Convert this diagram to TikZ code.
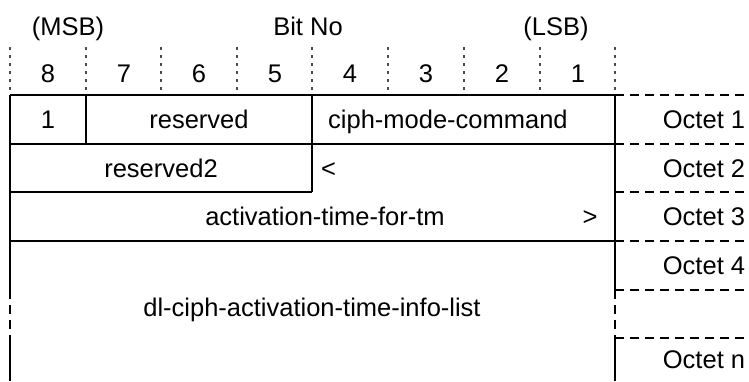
\documentclass[tikz,border=0pt]{standalone}
\usepackage{fontspec}
\setmainfont{Liberation Sans}
\begin{document}
\begin{tikzpicture}[x=1pt,y=-1pt,
  lbl/.style={font=\fontsize{25.5}{30}\selectfont, inner sep=0pt, anchor=base},
  boxline/.style={line width=2pt},
  octline/.style={line width=2pt, dash pattern=on 9pt off 6pt},
  sideline/.style={line width=2pt, dash pattern=on 9pt off 6pt},
  tickline/.style={line width=1.5pt, black!70, dash pattern=on 2.5pt off 5.5pt}]
\useasboundingbox (0,0) rectangle (749,381);

% header labels
\node[lbl] (msb) at (68,35) {(MSB)};
\node[lbl] (bitno) at (308,35) {Bit No};
\node[lbl] (lsb) at (556,35) {(LSB)};

% bit tick lines and numbers
\foreach \i/\x in {0/10,1/86,2/161,3/237,4/312,5/388,6/464,7/540,8/615}{
  \coordinate (t\i a) at (\x,47);
  \coordinate (t\i b) at (\x,91);
  \draw[tickline] (t\i a) -- (t\i b);
}
\foreach \n/\x in {8/48,7/124,6/199,5/275,4/350,3/426,2/502,1/578}{
  \node[lbl] (b\n) at (\x,82) {\n};
}

% coordinates of the table
\coordinate (tl) at (10,95);
\coordinate (tr) at (615,95);
\coordinate (r1l) at (10,143.5);
\coordinate (r1r) at (615,143.5);
\coordinate (r2l) at (10,192);
\coordinate (r2m) at (312,192);
\coordinate (r3l) at (10,241);
\coordinate (r3r) at (615,241);
\coordinate (c1t) at (86,95);
\coordinate (c1b) at (86,143.5);
\coordinate (c4t) at (312,95);
\coordinate (c4b) at (312,192);
\coordinate (l1) at (10,290);
\coordinate (l2) at (10,338);
\coordinate (lb) at (10,381);
\coordinate (rr1) at (615,290);
\coordinate (rr2) at (615,338);
\coordinate (rb) at (615,381);

% solid lines
\draw[boxline] (tl) -- (tr);
\draw[boxline] (r1l) -- (r1r);
\draw[boxline] (r2l) -- (r2m);
\draw[boxline] (r3l) -- (r3r);
\draw[boxline] (c1t) -- (c1b);
\draw[boxline] (c4t) -- (c4b);
\draw[boxline] (tl) -- (l1);
\draw[boxline] (tr) -- (rr1);
\draw[sideline] (l1) -- (l2);
\draw[sideline] (rr1) -- (rr2);
\draw[boxline] (l2) -- (lb);
\draw[boxline] (rr2) -- (rb);

% octet dashed lines
\foreach \y [count=\k] in {95,143.5,192,241,290,338}{
  \coordinate (o\k a) at (615,\y);
  \coordinate (o\k b) at (749,\y);
  \draw[octline] (o\k a) -- (o\k b);
}

% cell texts
\node[lbl] (f1) at (48,128) {1};
\node[lbl] (res) at (199,128) {reserved};
\node[lbl,anchor=base west] (cmc) at (328,128) {ciph-mode-command};
\node[lbl] (res2) at (161,177) {reserved2};
\node[lbl,anchor=base west] (lt) at (321,177) {<};
\node[lbl] (att) at (325,225) {activation-time-for-tm};
\node[lbl] (gt) at (590,225) {>};
\node[lbl] (list) at (312,316) {dl-ciph-activation-time-info-list};

% octet labels
\node[lbl] (oc1) at (704,128) {Octet 1};
\node[lbl] (oc2) at (704,177) {Octet 2};
\node[lbl] (oc3) at (704,225) {Octet 3};
\node[lbl] (oc4) at (704,274) {Octet 4};
\node[lbl] (ocn) at (704,368) {Octet n};
\end{tikzpicture}
\end{document}
